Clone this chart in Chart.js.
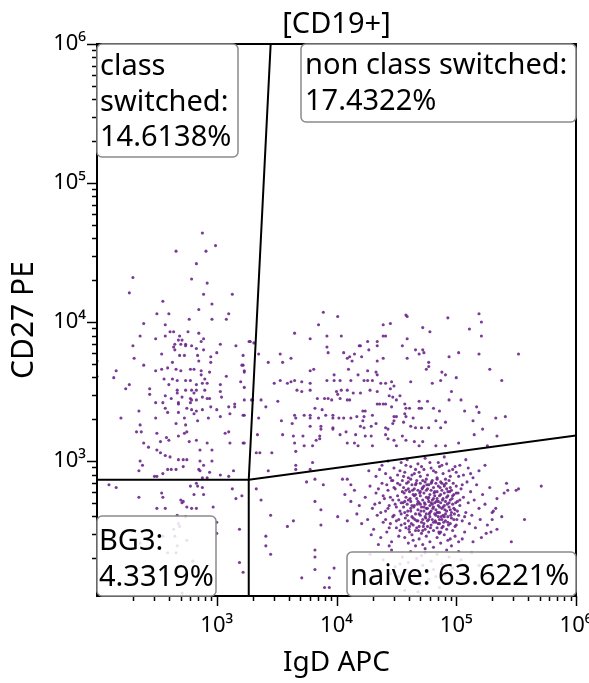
<!DOCTYPE html>
<html><head><meta charset="utf-8">
<script src="https://cdn.jsdelivr.net/npm/chart.js@4"></script>
<style>html,body{margin:0;padding:0;background:#fff}</style>
</head><body>
<canvas id="c" width="589" height="683"></canvas>
<script>
// ---------- text ----------
const chartTitle = '[CD19+]';
const xAxisTitle = 'IgD APC';
const yAxisTitle = 'CD27 PE';
const decadeLabels = {1000:'10\u00B3', 10000:'10\u2074', 100000:'10\u2075', 1000000:'10\u2076'};
const gateNames = ['class\nswitched:\n14.6138%', 'non class switched:\n17.4322%', 'BG3:\n4.3319%', 'naive: 63.6221%'];

// ---------- axis ranges (IgD APC on x, CD27 PE on y) ----------
const xRange = [100, 1000000];
const yRange = [107, 1000000];

// ---------- gate vertices (data units) ----------
const gateCorner = [1850, 735];
const gateLeftEnd = [100, 735];
const gateBottomEnd = [1850, 107];
const gateTopEnd = [2820, 1000000];
const gateRightEnd = [1000000, 1525];

// ---------- events, as [log10(IgD), log10(CD27)] ----------
const classSwitchedEvents = [
[2.88,4.64],[2.99,4.55],[2.66,4.51],[2.91,4.51],[2.83,4.42],[2.30,4.32],[2.79,4.31],[2.92,4.28],[2.27,4.21],[2.89,4.20],[3.13,4.20],[2.55,4.15],[2.96,4.13],[2.85,4.09],[2.50,4.06],[2.60,4.06],[3.10,4.06],[2.39,3.99],[2.77,4.02],[2.96,4.02],[3.08,4.02],[2.57,3.98],[2.61,3.93],[2.64,3.93],[2.76,3.93],[2.85,3.92],[2.36,3.90],[2.49,3.88],[2.57,3.90],[2.69,3.90],[2.89,3.88],[2.68,3.87],[2.71,3.87],[2.65,3.84],[2.70,3.84],[2.74,3.84],[2.87,3.86],[3.03,3.84],[2.30,3.83],[2.64,3.82],[2.65,3.80],[2.74,3.83],[2.79,3.83],[2.83,3.81],[2.89,3.80],[3.16,3.83],[2.54,3.77],[2.69,3.76],[2.73,3.76],[2.84,3.76],[2.95,3.75],[3.00,3.78],[3.22,3.76],[2.31,3.74],[2.63,3.71],[2.85,3.72],[2.95,3.71],[2.39,3.69],[3.21,3.69],[2.59,3.67],[2.49,3.65],[2.66,3.66],[2.54,3.66],[2.70,3.65],[2.78,3.66],[2.81,3.66],[2.87,3.65],[2.87,3.62],[2.94,3.64],[3.23,3.65],[2.16,3.65],[2.14,3.60],[2.56,3.59],[2.63,3.59],[2.67,3.58],[2.74,3.58],[2.78,3.58],[2.90,3.59],[2.88,3.56],[2.92,3.56],[3.08,3.61],[3.20,3.57],[2.60,3.55],[2.27,3.55],[2.83,3.55],[2.83,3.51],[2.24,3.52],[2.44,3.52],[2.44,3.48],[2.67,3.51],[2.67,3.49],[2.74,3.51],[2.79,3.51],[2.81,3.49],[2.90,3.51],[3.03,3.55],[3.03,3.50],[3.23,3.53],[2.57,3.47],[2.62,3.45],[2.71,3.46],[2.78,3.45],[2.79,3.44],[2.78,3.42],[2.83,3.44],[2.88,3.46],[2.92,3.45],[2.94,3.45],[3.04,3.46],[2.49,3.42],[2.55,3.42],[2.68,3.42],[3.23,3.44],[3.15,3.41],[3.10,3.39],[2.95,3.39],
[2.20,3.31],[2.35,3.36],[2.57,3.38],[2.59,3.35],[2.68,3.41],[2.68,3.35],[2.75,3.38],[2.73,3.31],[2.74,3.26],[2.79,3.37],[2.81,3.34],[2.83,3.36],[2.84,3.29],[2.88,3.37],[2.93,3.31],[3.00,3.37],[3.03,3.32],[3.11,3.34],[3.15,3.39],[3.22,3.33],[2.49,3.31],[2.33,3.21],[2.37,3.21],[2.36,3.26],[2.50,3.20],[2.53,3.14],[2.58,3.17],[2.60,3.15],[2.66,3.27],[2.68,3.18],[2.73,3.20],[2.75,3.21],[2.77,3.14],[2.83,3.15],[2.86,3.08],[2.92,3.13],[2.96,3.08],[3.07,3.20],[3.10,3.21],[3.11,3.13],[3.22,3.13],[2.39,3.13],[2.43,3.10],[2.50,3.08],[2.53,3.06],[2.57,3.04],[2.61,3.03],[2.68,3.01],[2.72,3.01],[2.75,3.01],[2.86,3.00],[2.89,2.97],[2.96,3.00],[2.36,3.00],[2.38,2.97],[2.35,2.93],[2.59,2.94],[2.62,2.94],[2.66,2.94],[2.55,2.91],[2.48,2.89],[2.50,2.89],[2.72,2.96],[2.85,2.94],[2.86,2.93],[2.94,2.92],[3.14,2.93],[3.03,2.90],[2.88,2.88],[2.92,2.88],[3.10,2.89],[2.00,3.72],[2.00,3.61],[3.22,3.69],[3.23,3.64],[3.23,3.33],[3.23,3.13]
];
const bg3Events = [
[2.10,2.83],[2.16,2.81],[2.35,2.74],[2.54,2.77],[2.55,2.74],[2.50,2.66],[2.57,2.66],[2.70,2.72],[2.71,2.70],[2.72,2.71],[2.75,2.67],[2.79,2.66],[2.83,2.66],[2.78,2.82],[2.84,2.82],[2.83,2.84],[2.81,2.76],[2.88,2.81],[2.89,2.76],[2.97,2.67],[3.13,2.80],[3.16,2.73],[3.21,2.75],[2.67,2.61],[2.68,2.55],[2.69,2.53],[2.74,2.60],[3.00,2.56],[3.00,2.48],[3.19,2.51],[3.19,2.27],[3.22,2.20],[2.64,2.51],[2.55,2.46],[2.65,2.46],[2.67,2.39],[2.66,2.34],[2.71,2.05],[2.59,2.34],[2.36,2.41],[2.75,2.43],[2.80,2.28]
];
const nonClassSwitchedEvents = [
[3.89,4.07],[4.01,4.04],[3.85,3.98],[3.65,3.92],[3.78,3.88],[3.92,3.90],[4.04,3.90],[3.27,3.86],[3.31,3.85],[3.35,3.77],[3.53,3.77],[3.62,3.74],[3.55,3.71],[3.43,3.71],[3.92,3.82],[3.93,3.78],[4.06,3.78],[4.09,3.74],[4.11,3.75],[4.15,3.77],[4.13,3.72],[4.19,3.83],[4.20,3.83],[4.21,3.75],[4.26,3.86],[4.27,3.80],[4.34,3.86],[4.34,3.83],[4.39,3.98],[4.45,3.99],[4.39,3.90],[4.41,3.90],[4.59,4.04],[4.58,4.05],[4.55,3.83],[4.59,3.88],[4.72,3.96],[4.78,3.93],[4.66,3.80],[4.72,3.80],[4.69,3.77],[4.73,3.78],[4.93,4.03],[5.19,4.06],[5.21,4.00],[5.11,3.95],[5.21,3.90],[5.02,3.78],[5.19,3.77],[5.52,3.77],[4.94,3.75],[4.34,3.72],[4.39,3.74],[4.59,3.74],[4.77,3.71],[4.77,3.68],[3.81,3.66],[3.78,3.65],[3.92,3.58],[3.98,3.62],[3.98,3.58],[4.03,3.58],[4.10,3.66],[4.12,3.58],[4.18,3.62],[4.26,3.65],[4.23,3.58],[4.33,3.64],[4.34,3.62],[4.26,3.58],[4.30,3.58],[4.37,3.56],[4.41,3.56],[4.46,3.57],[4.48,3.54],[4.45,3.52],[4.62,3.57],[4.75,3.66],[4.80,3.56],[4.88,3.64],[4.91,3.62],[4.87,3.58],[5.00,3.60],[4.96,3.50],[5.28,3.66],[5.38,3.58],[3.48,3.56],[3.53,3.58],[3.59,3.56],[3.62,3.57],[3.65,3.58],[3.71,3.57],[3.78,3.56],[3.67,3.51],[3.71,3.50],[3.78,3.51],[4.00,3.50],[4.01,3.48],[4.04,3.51],[4.09,3.51],[4.14,3.49],[4.20,3.49],[4.28,3.51],[4.34,3.50],[4.03,3.45],[4.09,3.44],[4.11,3.44],[3.84,3.45],[3.90,3.45],[3.93,3.45],[3.96,3.44],[3.37,3.44],[3.30,3.44],[3.51,3.43],[3.41,3.39],[4.44,3.47],[4.47,3.46],[4.50,3.44],[4.53,3.47],[4.34,3.41],[4.36,3.41],[4.39,3.41],[4.41,3.41],[4.46,3.39],[4.57,3.41],[4.58,3.38],[4.61,3.38],[4.69,3.43],[4.76,3.43],[4.69,3.38],[4.71,3.38],[4.81,3.38],[4.86,3.36],[4.94,3.44],[5.04,3.44],[5.07,3.36],[5.17,3.39],[5.19,3.35],[5.33,3.31],[5.41,3.32],[3.65,3.33],[3.66,3.31],[3.73,3.33],[3.78,3.33],[3.78,3.31],[3.82,3.38],[3.88,3.37],[3.85,3.31],[3.91,3.33],[3.97,3.33],[3.97,3.31],[4.02,3.31],[4.06,3.31],[4.12,3.31],[4.17,3.32],[4.22,3.36],[4.24,3.36],[4.23,3.32],[4.22,3.29],[4.20,3.25],[4.30,3.33],[4.29,3.25],[4.33,3.27],[4.41,3.24],[4.43,3.23],[4.47,3.27],[4.48,3.29],[4.48,3.32],[4.50,3.32],[4.57,3.34],[4.58,3.32],[4.64,3.31],[4.56,3.28],[4.62,3.25],[4.66,3.24],[4.71,3.24],[4.83,3.29],[4.87,3.24],[4.91,3.28],[4.77,3.24],[5.14,3.29],[5.15,3.19],[5.22,3.23],[5.34,3.18],[3.63,3.27],[3.55,3.19],[3.64,3.18],[3.54,3.29],[3.35,3.31],[3.34,3.19],[3.87,3.25],[3.87,3.23],[3.78,3.25],[3.72,3.18],[3.65,3.13],[3.86,3.18],[3.86,3.16],[3.97,3.24],[3.97,3.23],[4.03,3.19],[4.08,3.21],[4.09,3.13],[4.16,3.19],[4.23,3.24],[4.24,3.18],[4.15,3.13],[4.18,3.11],[3.80,3.11],[3.73,3.11],[3.83,3.15],[4.29,3.18],[4.30,3.11],[4.41,3.19],[4.43,3.16],[4.48,3.15],[4.50,3.11],[4.55,3.18],[4.58,3.15],[4.65,3.14],[4.69,3.11],[4.72,3.14],[4.83,3.11],[4.91,3.11],[5.02,3.13],[5.26,3.11],[3.28,3.86],[3.29,3.44],[3.33,3.06],[3.36,3.06],[3.46,3.06],[3.66,3.07]
];
const naiveSparseEvents = [
[3.33,2.80],[3.37,2.72],[3.45,2.61],[3.41,2.46],[3.41,2.39],[3.45,2.33],[3.59,2.53],[3.64,2.57],[3.66,2.97],[3.43,2.93],[3.75,2.85],[3.89,2.83],[3.82,2.71],[3.87,2.65],[3.87,2.54],[4.01,2.60],[3.82,2.36],[3.82,2.31],[3.82,2.22],[3.71,2.16],[3.94,2.16],[3.98,2.23],[3.90,2.09],[3.94,2.09],[3.82,2.87],[3.66,2.94],[3.78,2.94],[3.80,2.99],[4.05,2.87],[4.09,2.87],[4.12,2.83],
[5.25,2.48],[5.30,2.58],[5.34,2.51],[5.40,2.77],[5.43,2.79],[5.46,2.42],[5.50,2.79],[5.52,2.80],[5.57,2.58],[5.71,2.82],[5.33,2.66],[5.30,2.63]
];
const naiveCoreEvents = [
[4.56,2.81],[4.57,2.63],[4.58,2.52],[4.58,2.74],[4.59,2.69],[4.60,2.85],[4.60,2.57],[4.61,2.78],[4.61,2.49],[4.62,2.66],[4.62,2.71],[4.63,2.83],[4.63,2.60],[4.64,2.54],[4.64,2.76],[4.65,2.68],[4.65,2.80],[4.66,2.50],[4.66,2.62],[4.67,2.73],[4.67,2.86],[4.67,2.57],[4.68,2.65],[4.68,2.79],[4.69,2.70],[4.69,2.53],[4.70,2.61],[4.70,2.84],[4.70,2.75],[4.71,2.67],[4.71,2.48],[4.72,2.58],[4.72,2.81],[4.72,2.72],[4.73,2.64],[4.73,2.77],[4.73,2.55],[4.74,2.69],[4.74,2.85],[4.74,2.51],[4.75,2.62],[4.75,2.74],[4.76,2.80],[4.76,2.57],[4.76,2.66],[4.77,2.71],[4.77,2.49],[4.77,2.83],[4.78,2.60],[4.78,2.76],[4.78,2.68],[4.79,2.54],[4.79,2.79],[4.79,2.64],[4.80,2.72],[4.80,2.86],[4.80,2.58],[4.81,2.67],[4.81,2.50],[4.81,2.81],[4.82,2.62],[4.82,2.75],[4.82,2.70],[4.83,2.56],[4.83,2.84],[4.83,2.65],[4.84,2.78],[4.84,2.52],[4.84,2.73],[4.85,2.60],[4.85,2.68],[4.85,2.82],[4.86,2.55],[4.86,2.75],[4.86,2.63],[4.87,2.70],[4.87,2.85],[4.87,2.49],[4.88,2.58],[4.88,2.79],[4.88,2.66],[4.89,2.73],[4.89,2.53],[4.89,2.61],[4.90,2.77],[4.90,2.68],[4.90,2.83],[4.91,2.57],[4.91,2.71],[4.92,2.64],[4.92,2.80],[4.92,2.51],[4.93,2.75],[4.93,2.60],[4.94,2.67],[4.94,2.86],[4.95,2.55],[4.95,2.72],[4.96,2.63],[4.96,2.79],[4.97,2.69],[4.97,2.50],[4.98,2.58],[4.98,2.76],[4.99,2.65],[5.00,2.82],[5.00,2.54],[5.01,2.71],[5.02,2.61],
[4.555,2.70],[4.565,2.77],[4.575,2.59],[4.585,2.84],[4.595,2.64],[4.605,2.51],[4.615,2.73],[4.625,2.55],[4.635,2.79],[4.645,2.67],[4.655,2.58],[4.665,2.84],[4.675,2.69],[4.685,2.50],[4.695,2.77],[4.705,2.64],[4.715,2.80],[4.725,2.53],[4.735,2.70],[4.745,2.59],[4.755,2.83],[4.765,2.73],[4.775,2.62],[4.785,2.52],[4.795,2.85],[4.805,2.66],[4.815,2.77],[4.825,2.57],[4.835,2.71],[4.845,2.63],[4.855,2.49],[4.865,2.81],[4.875,2.60],[4.885,2.72],[4.895,2.56],[4.905,2.65],[4.915,2.84],[4.925,2.69],[4.935,2.54],[4.945,2.78],[4.955,2.61],[4.965,2.73],[4.975,2.84],[4.985,2.62],[4.995,2.70],[5.005,2.58],[5.015,2.77],
[4.32,2.69],[4.35,2.80],[4.37,2.63],[4.39,2.75],[4.41,2.58],[4.42,2.83],[4.43,2.66],[4.44,2.52],[4.45,2.74],[4.47,2.60],[4.48,2.81],[4.49,2.69],[4.50,2.57],[4.51,2.84],[4.52,2.72],[4.53,2.50],[4.54,2.62],[4.55,2.86],[4.56,2.67],[4.57,2.55],[4.58,2.79],[4.59,2.61],[4.60,2.72],[4.61,2.53],[4.62,2.87],[4.63,2.68],[4.64,2.59],[4.65,2.75],[4.66,2.83],[4.67,2.52],[4.68,2.71],[4.69,2.62],[4.70,2.78],[4.71,2.56],[4.72,2.86],[4.73,2.67],[4.74,2.60],[4.75,2.79],[4.76,2.53],[4.77,2.74],[4.78,2.63],[4.79,2.84],[4.80,2.69],[4.81,2.56],[4.82,2.78],[4.83,2.61],[4.84,2.87],[4.85,2.71],[4.86,2.58],[4.87,2.76],[4.88,2.52],[4.89,2.67],[4.90,2.82],[4.91,2.62],[4.92,2.74],[4.93,2.56],[4.94,2.70],[4.95,2.81],[4.96,2.59],[4.97,2.75],[4.98,2.66],[4.99,2.53],[5.00,2.77],[5.01,2.64],[5.03,2.72],[5.05,2.83],[5.07,2.60],[4.62,2.64],[4.68,2.57],[4.73,2.82],[4.77,2.58],[4.81,2.73],[4.86,2.67],[4.90,2.60],[4.95,2.65],[4.70,2.69],[4.79,2.70],[4.84,2.63],[4.75,2.66],[4.66,2.76],[4.88,2.84],[4.60,2.80],[4.93,2.78],[4.57,2.71],[4.85,2.55],[4.72,2.50]
];
const naiveRingEvents = [
[4.27,2.93],[4.33,2.89],[4.38,2.97],[4.41,2.91],[4.45,2.88],[4.48,2.95],[4.51,2.90],[4.54,2.99],[4.57,2.92],[4.60,2.88],[4.62,2.96],[4.65,2.91],[4.68,2.98],[4.70,2.89],[4.73,2.94],[4.76,2.90],[4.78,2.99],[4.81,2.93],[4.84,2.88],[4.86,2.96],[4.89,2.91],[4.92,2.98],[4.95,2.89],[4.97,2.94],[5.00,2.92],[5.03,2.97],[5.06,2.90],[5.10,2.95],[5.14,2.88],[5.19,2.93],[5.24,2.97],[4.36,2.94],[4.43,3.00],[4.59,3.01],[4.74,3.02],[4.90,3.03],[5.08,3.01],
[4.47,2.86],[4.53,2.93],[4.58,2.97],[4.63,2.90],[4.66,2.94],[4.71,2.96],[4.75,2.87],[4.79,2.95],[4.83,2.92],[4.88,2.97],[4.91,2.87],[4.94,2.93],[4.99,2.96],[5.02,2.89],[5.12,2.91],[4.56,2.89],[4.69,2.92],[4.85,2.99],
[4.24,2.74],[4.26,2.58],[4.28,2.82],[4.30,2.66],[4.31,2.51],[4.33,2.77],[4.34,2.61],[4.36,2.70],[4.37,2.45],[4.38,2.84],[4.39,2.56],[4.40,2.73],[4.41,2.64],[4.42,2.49],[4.43,2.79],[4.44,2.68],[4.45,2.55],[4.46,2.86],[4.46,2.42],[4.47,2.72],[4.48,2.61],[4.49,2.80],[4.50,2.52],[4.50,2.67],[4.51,2.75],[4.52,2.58],[4.52,2.46],[4.53,2.83],[4.53,2.64],[4.54,2.70],[4.54,2.54],[4.55,2.78],[4.19,2.68],[4.21,2.55],[4.15,2.79],[4.17,2.62],[4.12,2.71],[4.09,2.57],[4.07,2.76],[4.35,2.40],[4.44,2.39],[4.29,2.47],
[5.03,2.68],[5.04,2.80],[5.05,2.57],[5.06,2.74],[5.07,2.49],[5.08,2.63],[5.09,2.85],[5.10,2.70],[5.11,2.55],[5.12,2.78],[5.13,2.61],[5.15,2.72],[5.16,2.52],[5.17,2.83],[5.19,2.66],[5.20,2.58],[5.22,2.76],[5.24,2.69],[5.26,2.54],[5.28,2.81],[5.31,2.64],[5.34,2.73],[5.38,2.60],[5.42,2.84],[5.21,2.45],[5.14,2.42],[5.05,2.44],[5.29,2.49],
[4.57,2.45],[4.60,2.41],[4.63,2.47],[4.66,2.39],[4.69,2.44],[4.72,2.40],[4.75,2.46],[4.78,2.42],[4.81,2.38],[4.84,2.45],[4.87,2.41],[4.90,2.47],[4.93,2.43],[4.96,2.39],[4.99,2.46],[5.02,2.42],[4.64,2.43],[4.74,2.37],[4.86,2.48],[4.95,2.44]
];
const naiveLowEvents = [
[4.28,2.33],[4.34,2.21],[4.39,2.29],[4.42,2.12],[4.46,2.36],[4.49,2.24],[4.52,2.17],[4.55,2.31],[4.57,2.07],[4.60,2.27],[4.62,2.35],[4.65,2.19],[4.67,2.30],[4.70,2.11],[4.72,2.25],[4.74,2.34],[4.77,2.15],[4.79,2.28],[4.81,2.22],[4.84,2.33],[4.86,2.09],[4.88,2.26],[4.91,2.18],[4.94,2.31],[4.97,2.23],[5.00,2.14],[5.04,2.29],[5.08,2.20],[5.13,2.34],[5.19,2.25],[4.58,2.22],[4.68,2.06],[4.76,2.20],[4.83,2.17],[4.63,2.13],[4.53,2.26],[4.45,2.19],[4.92,2.36],[5.02,2.35],[4.71,2.32]
];

// ---------- build ----------
const toPoint = ([lx, ly]) => ({x: Math.pow(10, lx), y: Math.pow(10, ly)});
const allEvents = [].concat(classSwitchedEvents, bg3Events, nonClassSwitchedEvents,
  naiveSparseEvents, naiveCoreEvents, naiveRingEvents, naiveLowEvents).map(toPoint);
const P = (a) => ({x: a[0], y: a[1]});

function logTicks(scale) {
  const t = [];
  for (let e = 2; e <= 6; e++) for (let m = 1; m <= 9; m++) {
    const v = m * Math.pow(10, e);
    if (v > scale.min * 1.0001 && v <= scale.max * 1.0001) t.push({value: v});
  }
  scale.ticks = t;
}
const isDecade = v => Math.abs(Math.log10(v) - Math.round(Math.log10(v))) < 1e-6;
const tickLabel = v => decadeLabels[Math.round(v)] || '';

const FONT = '"Noto Sans", "Open Sans", sans-serif';

const overlay = {
  id: 'overlay',
  afterDraw(chart) {
    const ctx = chart.ctx;
    const ca = chart.chartArea;
    ctx.save();
    ctx.strokeStyle = '#000';
    ctx.lineWidth = 2;
    ctx.strokeRect(ca.left, ca.top, ca.right - ca.left, ca.bottom - ca.top);
    ctx.lineWidth = 1.5;
    const xs = chart.scales.x, ys = chart.scales.y;
    for (const t of xs.ticks) {
      const p = Math.round(xs.getPixelForValue(t.value)) + 0.5;
      const len = isDecade(t.value) ? 10 : 5;
      ctx.beginPath(); ctx.moveTo(p, ca.bottom); ctx.lineTo(p, ca.bottom + len); ctx.stroke();
    }
    for (const t of ys.ticks) {
      const p = Math.round(ys.getPixelForValue(t.value)) + 0.5;
      const len = isDecade(t.value) ? 10 : 5;
      ctx.beginPath(); ctx.moveTo(ca.left, p); ctx.lineTo(ca.left - len, p); ctx.stroke();
    }
    const boxes = [
      {text: gateNames[0], x: ca.left, y: ca.top, w: 141, h: 113, tx: 3, ty: 31},
      {text: gateNames[1], x: 301, y: ca.top, w: ca.right - 301, h: 78, tx: 4, ty: 30},
      {text: gateNames[2], x: ca.left, y: 516, w: 119, h: ca.bottom - 516, tx: 2, ty: 34},
      {text: gateNames[3], x: 347, y: 552, w: ca.right - 347, h: ca.bottom - 552, tx: 3, ty: 33}
    ];
    ctx.font = '29px ' + FONT;
    ctx.textBaseline = 'alphabetic';
    ctx.textAlign = 'left';
    for (const b of boxes) {
      ctx.beginPath();
      ctx.roundRect(b.x, b.y, b.w, b.h, 5);
      ctx.fillStyle = 'rgba(255,255,255,0.85)';
      ctx.fill();
      ctx.strokeStyle = '#8a8a8a';
      ctx.lineWidth = 1.5;
      ctx.stroke();
      ctx.fillStyle = '#000';
      b.text.split('\n').forEach((line, i) => ctx.fillText(line, b.x + b.tx, b.y + b.ty + i * 35.5));
    }
    ctx.restore();
  }
};

const gateStyle = {showLine: true, pointRadius: 0, borderColor: '#000', borderWidth: 2, fill: false};

new Chart(document.getElementById('c'), {
  type: 'scatter',
  data: {
    datasets: [
      Object.assign({data: [P(gateLeftEnd), P(gateCorner), P(gateRightEnd)]}, gateStyle),
      Object.assign({data: [P(gateBottomEnd), P(gateCorner), P(gateTopEnd)]}, gateStyle),
      {data: allEvents, pointRadius: 1.55, pointHoverRadius: 1.55, borderWidth: 0,
       backgroundColor: 'rgba(108,38,138,0.9)', showLine: false}
    ]
  },
  options: {
    responsive: false,
    animation: false,
    devicePixelRatio: 1,
    layout: {padding: {left: 0, right: 13, top: 0, bottom: 0}},
    plugins: {
      legend: {display: false},
      tooltip: {enabled: false},
      title: {display: true, text: chartTitle, fullSize: false, color: '#000',
              font: {family: FONT, size: 29, weight: 'normal'}, padding: {top: 7, bottom: 2.2}}
    },
    scales: {
      x: {
        type: 'logarithmic', min: xRange[0], max: xRange[1],
        afterBuildTicks: logTicks,
        afterFit: s => { s.height = 87; s.paddingLeft = 0; s.paddingRight = 0; },
        grid: {display: true, drawOnChartArea: false, drawTicks: true, tickLength: 10, tickColor: 'rgba(0,0,0,0)'},
        border: {display: false},
        ticks: {autoSkip: false, maxRotation: 0, color: '#000', padding: 7,
                font: {family: FONT, size: 22}, callback: tickLabel},
        title: {display: true, text: xAxisTitle, color: '#000', font: {family: FONT, size: 28},
                padding: {top: 0, bottom: 3}}
      },
      y: {
        type: 'logarithmic', min: yRange[0], max: yRange[1],
        afterBuildTicks: logTicks,
        afterFit: s => { s.width = 97; s.paddingTop = 0; s.paddingBottom = 0; },
        grid: {display: true, drawOnChartArea: false, drawTicks: true, tickLength: 10, tickColor: 'rgba(0,0,0,0)'},
        border: {display: false},
        ticks: {autoSkip: false, color: '#000', padding: 1,
                font: {family: FONT, size: 22}, callback: tickLabel},
        title: {display: true, text: yAxisTitle, color: '#000', font: {family: FONT, size: 30},
                padding: {top: 6, bottom: 0}}
      }
    }
  },
  plugins: [overlay]
});
</script>
</body></html>
